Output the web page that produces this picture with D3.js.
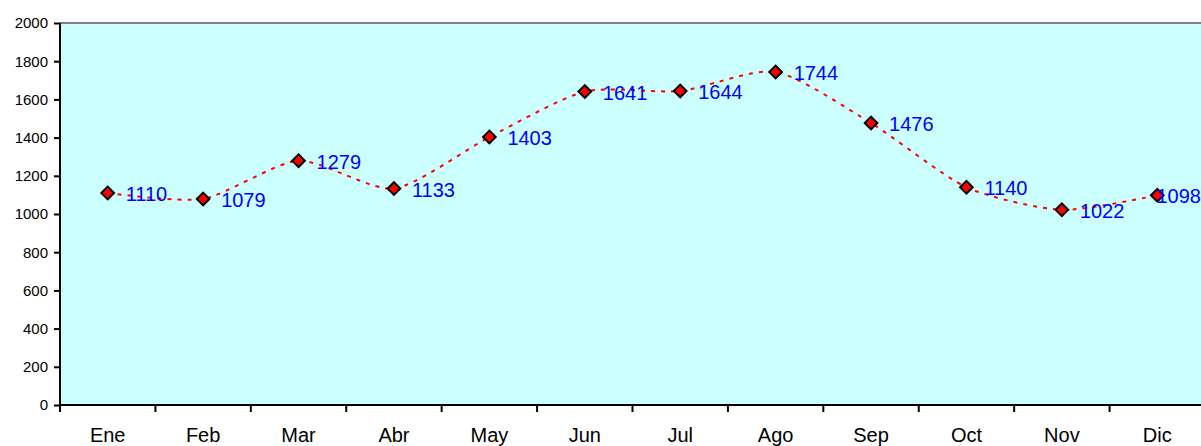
<!DOCTYPE html>
<html><head><meta charset="utf-8">
<script src="https://cdn.jsdelivr.net/npm/d3@7/dist/d3.min.js"></script>
<style>body{margin:0;background:#fff;}svg{display:block;font-family:"Liberation Sans",Arial,sans-serif;}</style>
</head><body>
<svg id="c" width="1201" height="446"></svg>
<script>
const months = ["Ene","Feb","Mar","Abr","May","Jun","Jul","Ago","Sep","Oct","Nov","Dic"];
const values = [1110,1079,1279,1133,1403,1641,1644,1744,1476,1140,1022,1098];
const yTicks = [0,200,400,600,800,1000,1200,1400,1600,1800,2000];

const svg = d3.select("#c");
const W = 1201;
const L = 60, R = 1205, T = 23, B = 405;
const x = d3.scaleBand().domain(months).range([L, R]);
const y = d3.scaleLinear().domain([0, 2000]).range([B, T]);
const cx = d => x(d) + x.bandwidth()/2;
const FF = "Liberation Sans, Arial, sans-serif";

svg.append("rect").attr("x", L).attr("y", T).attr("width", R-L).attr("height", B-T).attr("fill", "#ccffff");
svg.append("line").attr("x1", L).attr("x2", R).attr("y1", T).attr("y2", T).attr("stroke", "#808080").attr("stroke-width", 2);

const yAxis = svg.append("g").attr("transform", `translate(${L},0)`)
  .call(d3.axisLeft(y).tickValues(yTicks).tickSize(6).tickPadding(6).tickFormat(d3.format("d")));
yAxis.attr("font-size", null);
yAxis.select(".domain").attr("stroke", "#000").attr("stroke-width", 2).attr("d", `M0,${T}V${B}`);
yAxis.selectAll(".tick line").attr("stroke", "#000").attr("stroke-width", 2);
yAxis.selectAll(".tick text").style("font-size", "15px").attr("fill", "#000").style("font-family", FF);

const xAxis = svg.append("g").attr("transform", `translate(0,${B})`)
  .call(d3.axisBottom(x).tickSize(0).tickPadding(23));
xAxis.attr("font-size", null);
xAxis.select(".domain").attr("stroke", "#000").attr("stroke-width", 2).attr("d", `M${L},0H${R}`);
xAxis.selectAll(".tick text").style("font-size", "20px").attr("fill", "#000").style("font-family", FF);
const bounds = months.map(m => x(m)).concat([R]);
svg.append("g").selectAll("line").data(bounds).join("line")
  .attr("x1", d => d).attr("x2", d => d).attr("y1", B).attr("y2", B + 7)
  .attr("stroke", "#000").attr("stroke-width", 2);

const line = d3.line().x((d,i) => cx(months[i])).y(d => y(d)).curve(d3.curveCardinal.tension(0.3));
svg.append("path").datum(values).attr("d", line).attr("fill", "none")
  .attr("stroke", "#ff0000").attr("stroke-width", 2).attr("stroke-dasharray", "4,6");

svg.append("g").selectAll("path").data(values).join("path")
  .attr("transform", (d,i) => `translate(${cx(months[i])},${y(d)}) rotate(45)`)
  .attr("d", d3.symbol().type(d3.symbolSquare).size(80))
  .attr("fill", "#ff0000").attr("stroke", "#000").attr("stroke-width", 2);

const labels = svg.append("g").selectAll("text").data(values).join("text")
  .attr("x", (d,i) => cx(months[i]) + 18).attr("y", d => y(d) + 8)
  .style("font-size", "20px").attr("fill", "#0000ff").style("font-family", FF).text(d => d);
labels.each(function() {
  const bb = this.getBBox();
  if (bb.x + bb.width > W) d3.select(this).attr("x", W - bb.width);
});
</script>
</body></html>
